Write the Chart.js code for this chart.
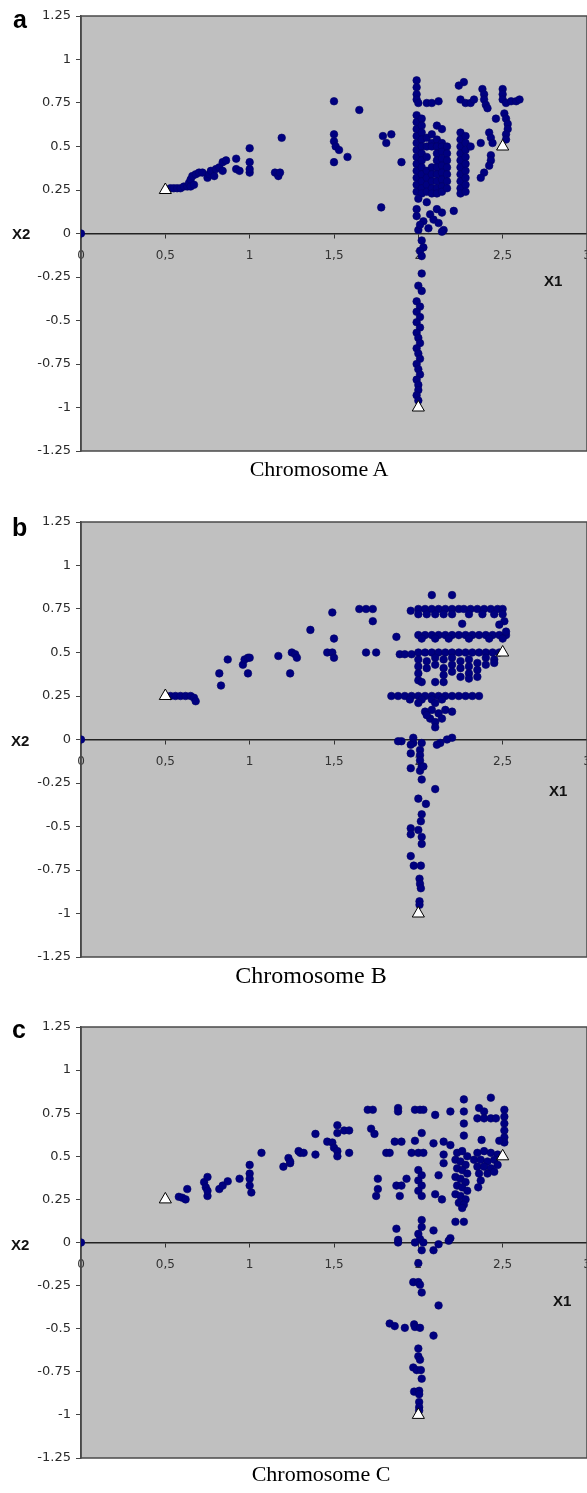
<!DOCTYPE html>
<html>
<head>
<meta charset="utf-8">
<script src="https://cdn.jsdelivr.net/npm/chart.js@4.4.1/dist/chart.umd.min.js"></script>
<style>
  html, body { margin: 0; padding: 0; background: #fff; overflow: hidden; }
  body { width: 587px; height: 1493px; position: relative; }
  /* a bit wider than the page: the plot runs to the page edge and the "3" label is cut, as in the original */
  .panel { position: absolute; left: 0; width: 595px; }
  .letter { position: absolute; font: bold 25px "Liberation Sans", Arial, sans-serif; line-height: 1; color: #000; }
  .axname { position: absolute; font: bold 15px "Liberation Sans", Arial, sans-serif; line-height: 1; color: #111; }
  .caption { position: absolute; width: 300px; text-align: center; font-family: "Liberation Serif", "Times New Roman", serif; line-height: 1; color: #000; }
</style>
</head>
<body>

<div class="panel" style="top:6px;height:455px"><canvas id="chartA"></canvas></div>
<div class="panel" style="top:512px;height:455px"><canvas id="chartB"></canvas></div>
<div class="panel" style="top:1017px;height:451px"><canvas id="chartC"></canvas></div>

<div class="letter" style="left:13px;top:7px">a</div>
<div class="letter" style="left:12px;top:515px">b</div>
<div class="letter" style="left:12px;top:1017px">c</div>

<div class="axname" style="left:12px;top:226px">X2</div>
<div class="axname" style="left:11px;top:733px">X2</div>
<div class="axname" style="left:11px;top:1237px">X2</div>
<div class="axname" style="left:544px;top:273px">X1</div>
<div class="axname" style="left:549px;top:783px">X1</div>
<div class="axname" style="left:553px;top:1293px">X1</div>

<div class="caption" style="left:169px;top:458px;font-size:22px">Chromosome A</div>
<div class="caption" style="left:161px;top:963px;font-size:24px">Chromosome B</div>
<div class="caption" style="left:171px;top:1463px;font-size:22px">Chromosome C</div>

<script>
// tick labels
const xTickLabels = ['0', '0,5', '1', '1,5', '2', '2,5', '3']
const yTickLabels = ['-1.25', '-1', '-0.75', '-0.5', '-0.25', '0', '0.25', '0.5', '0.75', '1', '1.25']

// the three optima (white triangles), same in every panel
const optimaX = [0.5, 2, 2.5]
const optimaY = [0.25, -1, 0.5]

// chromosome A, [X1, X2]
const pointsA = [
  [0, 0],
  [0.53, 0.26], [0.55, 0.26], [0.57, 0.26], [0.59, 0.26], [0.61, 0.27], [0.63, 0.27], [0.64, 0.29],
  [0.65, 0.31], [0.65, 0.27], [0.66, 0.33], [0.67, 0.28], [0.68, 0.34], [0.7, 0.35], [0.72, 0.35],
  [0.75, 0.32], [0.76, 0.34], [0.77, 0.36], [0.79, 0.33], [0.8, 0.37], [0.82, 0.38], [0.84, 0.36],
  [0.84, 0.41], [0.86, 0.42], [0.92, 0.37], [0.92, 0.43], [0.94, 0.36], [1.0, 0.35], [1.0, 0.37],
  [1.0, 0.41], [1.0, 0.49], [1.15, 0.35], [1.17, 0.33], [1.18, 0.35], [1.19, 0.55],
  [1.5, 0.76], [1.65, 0.71], [1.5, 0.57], [1.5, 0.53], [1.51, 0.5], [1.53, 0.48], [1.58, 0.44],
  [1.5, 0.41], [1.79, 0.56], [1.84, 0.57], [1.81, 0.52], [1.9, 0.41], [1.78, 0.15],
  [1.99, 0.88], [1.99, 0.84], [1.99, 0.8], [1.99, 0.77], [2.0, 0.75], [2.05, 0.75], [2.08, 0.75], [2.12, 0.76],
  [1.99, 0.68], [1.99, 0.64], [1.99, 0.6], [1.99, 0.56], [1.99, 0.52], [1.99, 0.48], [1.99, 0.44],
  [1.99, 0.4], [1.99, 0.36], [1.99, 0.32], [1.99, 0.28], [1.99, 0.24],
  [2.02, 0.66], [2.02, 0.62], [2.02, 0.58], [2.02, 0.54], [2.02, 0.5], [2.02, 0.46], [2.02, 0.42],
  [2.02, 0.38], [2.02, 0.34], [2.02, 0.3], [2.02, 0.26], [2.02, 0.23],
  [2.05, 0.55], [2.05, 0.5], [2.05, 0.44], [2.05, 0.36], [2.05, 0.32], [2.05, 0.28], [2.05, 0.24],
  [2.08, 0.57], [2.08, 0.52], [2.08, 0.5], [2.08, 0.38], [2.08, 0.34], [2.08, 0.3], [2.08, 0.26], [2.08, 0.23],
  [2.11, 0.62], [2.11, 0.54], [2.11, 0.5], [2.11, 0.46], [2.11, 0.42], [2.11, 0.38], [2.11, 0.34],
  [2.11, 0.3], [2.11, 0.26], [2.11, 0.23],
  [2.14, 0.6], [2.14, 0.52], [2.14, 0.5], [2.14, 0.47], [2.14, 0.43], [2.14, 0.39], [2.14, 0.35],
  [2.14, 0.31], [2.14, 0.27], [2.14, 0.24],
  [2.17, 0.5], [2.17, 0.46], [2.17, 0.42], [2.17, 0.38], [2.17, 0.34], [2.17, 0.3], [2.17, 0.26],
  [2.25, 0.58], [2.25, 0.54], [2.25, 0.5], [2.25, 0.46], [2.25, 0.42], [2.25, 0.38], [2.25, 0.34],
  [2.25, 0.3], [2.25, 0.26], [2.25, 0.23],
  [2.28, 0.56], [2.28, 0.52], [2.28, 0.48], [2.28, 0.44], [2.28, 0.4], [2.28, 0.36], [2.28, 0.32],
  [2.28, 0.28], [2.28, 0.24], [2.31, 0.5],
  [2.27, 0.87], [2.24, 0.85], [2.25, 0.77], [2.28, 0.75], [2.31, 0.75], [2.33, 0.77],
  [2.38, 0.83], [2.39, 0.8], [2.39, 0.77], [2.4, 0.74], [2.41, 0.72], [2.42, 0.58], [2.43, 0.55],
  [2.44, 0.52], [2.37, 0.52], [2.43, 0.45], [2.43, 0.42], [2.42, 0.39], [2.39, 0.35], [2.37, 0.32],
  [2.5, 0.83], [2.5, 0.8], [2.5, 0.77], [2.52, 0.75], [2.55, 0.76], [2.58, 0.76], [2.6, 0.77],
  [2.51, 0.69], [2.52, 0.66], [2.53, 0.63], [2.53, 0.6], [2.52, 0.57], [2.52, 0.54], [2.46, 0.66],
  [2.0, 0.2], [2.05, 0.18], [1.99, 0.14], [2.07, 0.11], [2.11, 0.14], [2.14, 0.12], [2.21, 0.13],
  [2.03, 0.07], [2.09, 0.08], [2.12, 0.06], [2.15, 0.02], [2.0, 0.02], [2.06, 0.03], [2.14, 0.01],
  [1.99, 0.1], [2.01, 0.05],
  [2.02, -0.04], [2.03, -0.08], [2.01, -0.1], [2.02, -0.13], [2.02, -0.23], [2.0, -0.3], [2.02, -0.33],
  [1.99, -0.39], [2.01, -0.42], [1.99, -0.45], [2.01, -0.48], [1.99, -0.51], [2.01, -0.54], [1.99, -0.57],
  [2.0, -0.6], [2.01, -0.63], [1.99, -0.66], [2.0, -0.69], [2.01, -0.72], [1.99, -0.75], [2.0, -0.78],
  [2.01, -0.81], [1.99, -0.84], [2.0, -0.87], [2.0, -0.9], [1.99, -0.93], [2.0, -0.96]
]

// chromosome B
const pointsB = [
  [0, 0],
  [0.53, 0.25], [0.56, 0.25], [0.59, 0.25], [0.62, 0.25], [0.65, 0.25], [0.67, 0.24], [0.68, 0.22],
  [0.82, 0.38], [0.83, 0.31], [0.87, 0.46], [0.96, 0.43], [0.97, 0.46], [0.99, 0.47], [1.0, 0.47],
  [0.99, 0.38], [1.17, 0.48], [1.24, 0.38], [1.25, 0.5], [1.27, 0.49], [1.28, 0.47], [1.36, 0.63],
  [1.49, 0.73], [1.5, 0.58], [1.46, 0.5], [1.49, 0.5], [1.5, 0.47], [1.65, 0.75], [1.69, 0.75],
  [1.73, 0.75], [1.73, 0.68], [1.69, 0.5], [1.75, 0.5], [1.87, 0.59], [1.89, 0.49], [1.92, 0.49],
  [1.96, 0.49], [1.955, 0.74],
  [2.08, 0.83], [2.2, 0.83],
  [2.0, 0.75], [2.04, 0.75], [2.08, 0.75], [2.12, 0.75], [2.16, 0.75], [2.2, 0.75], [2.24, 0.75],
  [2.0, 0.72], [2.05, 0.72], [2.1, 0.72], [2.15, 0.72], [2.2, 0.72],
  [2.27, 0.75], [2.31, 0.75], [2.35, 0.75], [2.39, 0.75], [2.43, 0.75], [2.47, 0.75], [2.5, 0.75],
  [2.3, 0.72], [2.38, 0.72], [2.45, 0.72], [2.5, 0.72], [2.51, 0.68], [2.48, 0.66], [2.26, 0.665],
  [2.0, 0.6], [2.04, 0.6], [2.08, 0.6], [2.12, 0.6], [2.16, 0.6], [2.2, 0.6], [2.24, 0.6],
  [2.28, 0.6], [2.32, 0.6], [2.36, 0.6], [2.4, 0.6], [2.44, 0.6], [2.48, 0.6], [2.52, 0.6],
  [2.02, 0.58], [2.1, 0.58], [2.18, 0.58], [2.3, 0.58], [2.42, 0.58], [2.5, 0.58], [2.52, 0.62],
  [2.0, 0.5], [2.04, 0.5], [2.08, 0.5], [2.12, 0.5], [2.16, 0.5], [2.2, 0.5], [2.24, 0.5],
  [2.28, 0.5], [2.32, 0.5], [2.36, 0.5], [2.4, 0.5], [2.44, 0.5], [2.48, 0.5],
  [2.0, 0.46], [2.0, 0.42], [2.0, 0.38], [2.0, 0.34], [2.05, 0.45], [2.05, 0.41],
  [2.1, 0.47], [2.1, 0.43], [2.15, 0.46], [2.15, 0.41], [2.15, 0.37], [2.2, 0.47], [2.2, 0.43],
  [2.2, 0.39], [2.25, 0.45], [2.25, 0.41], [2.25, 0.36], [2.3, 0.46], [2.3, 0.42], [2.3, 0.38],
  [2.3, 0.35], [2.35, 0.44], [2.35, 0.4], [2.35, 0.36], [2.4, 0.47], [2.4, 0.43], [2.45, 0.46],
  [2.45, 0.44], [2.02, 0.33], [2.1, 0.33], [2.15, 0.33],
  [1.84, 0.25], [1.88, 0.25], [1.92, 0.25], [1.96, 0.25], [2.0, 0.25], [2.04, 0.25], [2.08, 0.25],
  [2.12, 0.25], [2.16, 0.25], [2.2, 0.25], [2.24, 0.25], [2.28, 0.25], [2.32, 0.25], [2.36, 0.25],
  [1.95, 0.23], [2.02, 0.23], [2.08, 0.23], [2.14, 0.23], [2.0, 0.21], [2.1, 0.21],
  [2.04, 0.16], [2.08, 0.17], [2.12, 0.15], [2.16, 0.17], [2.2, 0.16], [2.07, 0.12], [2.1, 0.1],
  [2.14, 0.12], [2.1, 0.07], [2.05, 0.14],
  [1.9, -0.01], [1.97, 0.01], [1.97, -0.02], [2.02, -0.02], [2.13, -0.02], [2.2, 0.01],
  [1.88, -0.01], [1.955, -0.03], [1.955, -0.08], [2.01, -0.06], [2.01, -0.09], [2.01, -0.12],
  [1.955, -0.165], [2.02, -0.155], [2.01, -0.18], [2.03, -0.155], [2.02, -0.23], [2.1, -0.285],
  [2.11, -0.03], [2.17, 0], [2.0, -0.34], [2.045, -0.37], [2.02, -0.43], [2.015, -0.47],
  [1.955, -0.51], [1.955, -0.545], [2.0, -0.52], [2.02, -0.56], [2.02, -0.6], [1.955, -0.67],
  [1.973, -0.725], [2.015, -0.725], [2.007, -0.8], [2.01, -0.83], [2.015, -0.855], [2.007, -0.93],
  [2.007, -0.95]
]

// chromosome C
const pointsC = [
  [0, 0],
  [0.58, 0.265], [0.6, 0.26], [0.62, 0.25], [0.63, 0.31], [0.73, 0.35], [0.74, 0.32], [0.75, 0.38],
  [0.75, 0.27], [0.75, 0.3], [0.82, 0.31], [0.84, 0.33], [0.87, 0.355], [0.94, 0.37], [1.0, 0.45],
  [1.0, 0.4], [1.0, 0.37], [1.0, 0.33], [1.01, 0.29], [1.07, 0.52], [1.2, 0.44], [1.23, 0.49],
  [1.24, 0.46], [1.29, 0.53], [1.24, 0.47], [1.3, 0.52], [1.32, 0.52], [1.39, 0.63], [1.39, 0.51],
  [1.46, 0.585], [1.52, 0.68], [1.52, 0.635], [1.49, 0.58], [1.5, 0.55], [1.52, 0.53], [1.52, 0.5],
  [1.56, 0.65], [1.59, 0.65], [1.59, 0.52], [1.7, 0.77], [1.73, 0.77], [1.72, 0.66], [1.74, 0.63],
  [1.81, 0.52], [1.83, 0.52], [1.76, 0.37], [1.76, 0.31], [1.75, 0.27], [1.88, 0.78], [1.88, 0.76],
  [1.86, 0.585], [1.9, 0.585], [1.87, 0.33], [1.9, 0.33], [1.89, 0.27], [1.93, 0.37], [1.98, 0.77],
  [2.01, 0.77], [2.03, 0.77], [2.02, 0.635], [1.98, 0.59], [1.96, 0.52], [2.0, 0.52], [2.03, 0.52],
  [2.0, 0.42], [2.02, 0.39], [2.0, 0.36], [2.02, 0.33], [2.0, 0.3], [2.02, 0.27], [2.1, 0.74],
  [2.09, 0.575], [2.15, 0.585], [2.19, 0.565], [2.15, 0.51], [2.15, 0.46], [2.12, 0.39], [2.1, 0.28],
  [2.14, 0.25], [2.19, 0.76],
  [2.23, 0.52], [2.26, 0.53], [2.29, 0.5], [2.22, 0.48], [2.25, 0.47], [2.28, 0.45], [2.23, 0.43],
  [2.26, 0.42], [2.29, 0.4], [2.22, 0.38], [2.25, 0.37], [2.28, 0.35], [2.23, 0.33], [2.26, 0.32],
  [2.29, 0.3], [2.22, 0.28], [2.25, 0.27], [2.28, 0.25], [2.24, 0.23], [2.27, 0.22], [2.26, 0.2],
  [2.27, 0.83], [2.27, 0.76], [2.27, 0.69], [2.27, 0.62], [2.22, 0.12], [2.27, 0.12],
  [2.43, 0.84], [2.36, 0.78], [2.39, 0.76], [2.35, 0.72], [2.39, 0.72],
  [2.51, 0.77], [2.51, 0.73], [2.51, 0.69], [2.51, 0.65], [2.51, 0.61], [2.51, 0.58], [2.43, 0.72],
  [2.46, 0.72], [2.48, 0.59], [2.375, 0.595],
  [2.35, 0.52], [2.39, 0.53], [2.43, 0.52], [2.47, 0.51], [2.33, 0.48], [2.37, 0.48], [2.41, 0.47],
  [2.45, 0.48], [2.35, 0.44], [2.39, 0.44], [2.43, 0.43], [2.47, 0.45], [2.36, 0.4], [2.41, 0.4],
  [2.45, 0.41], [2.37, 0.36], [2.355, 0.32],
  [1.87, 0.08], [1.88, 0.015], [2.02, 0.13], [2.02, 0.09], [2.01, 0.02], [2.0, 0.05], [2.03, 0.0],
  [2.09, 0.07], [2.12, -0.01], [2.19, 0.025],
  [1.88, 0.0], [1.98, 0.0], [2.02, -0.045], [2.09, -0.045], [2.18, 0.01], [2.0, -0.12],
  [1.97, -0.23], [2.0, -0.23], [2.01, -0.245], [2.02, -0.29], [2.12, -0.365], [1.83, -0.47],
  [1.86, -0.485], [1.92, -0.495], [1.975, -0.475], [1.98, -0.49], [2.01, -0.495], [2.09, -0.54],
  [2.0, -0.615], [2.0, -0.66], [2.01, -0.68], [1.97, -0.725], [1.99, -0.74], [2.015, -0.74],
  [2.02, -0.79], [1.975, -0.865], [2.005, -0.86], [2.005, -0.88], [2.005, -0.925], [2.005, -0.955],
  [2.005, -0.975]
]

// grey plotting area with a dark frame, like the old spreadsheet charts
const plotFrame = {
  id: 'plotFrame',
  beforeDraw(chart) {
    const { ctx, chartArea: a } = chart
    ctx.save()
    ctx.fillStyle = '#c0c0c0'
    ctx.fillRect(a.left, a.top, a.right - a.left, a.bottom - a.top)
    ctx.restore()
  },
  beforeDatasetsDraw(chart) {
    const { ctx, chartArea: a } = chart
    ctx.save()
    ctx.strokeStyle = '#4a4a4a'
    ctx.lineWidth = 1.5
    ctx.strokeRect(a.left, a.top, a.right - a.left, a.bottom - a.top)
    ctx.restore()
  }
}

function buildPanel(canvasId, points) {
  return new Chart(document.getElementById(canvasId), {
    type: 'scatter',
    data: {
      datasets: [
        {
          label: 'Optima',
          data: optimaX.map((x, i) => ({ x: x, y: optimaY[i] })),
          pointStyle: 'triangle',
          pointRadius: 7,
          backgroundColor: '#ffffff',
          borderColor: '#000000',
          borderWidth: 1
        },
        {
          label: 'Individuals',
          data: points.map(p => ({ x: p[0], y: p[1] })),
          pointRadius: 3.8,
          backgroundColor: '#000080',
          borderColor: '#000066',
          borderWidth: 0.6
        }
      ]
    },
    options: {
      responsive: true,
      maintainAspectRatio: false,
      animation: false,
      events: [],
      layout: { padding: { top: 10, bottom: 10, left: 0, right: 0 } },
      plugins: { legend: { display: false }, tooltip: { enabled: false } },
      scales: {
        x: {
          type: 'linear',
          position: { y: 0 },
          min: 0,
          max: 3,
          ticks: {
            stepSize: 0.5,
            autoSkip: false,
            maxRotation: 0,
            padding: 11,
            color: '#333',
            font: { family: 'DejaVu Sans', size: 12 },
            callback: (v, i) => xTickLabels[i]
          },
          grid: { drawOnChartArea: false, drawTicks: true, tickLength: 4, color: '#333' },
          border: { display: true, color: '#222', width: 1.5 },
          afterFit: (s) => { s.paddingLeft = 0; s.paddingRight = 0 }
        },
        y: {
          type: 'linear',
          position: 'left',
          min: -1.25,
          max: 1.25,
          ticks: {
            stepSize: 0.25,
            autoSkip: false,
            padding: 5,
            color: '#2b2b2b',
            font: { family: 'DejaVu Sans', size: 13 },
            callback: (v, i) => yTickLabels[i]
          },
          grid: { drawOnChartArea: false, drawTicks: true, tickLength: 5, color: '#444' },
          border: { display: true, color: '#444', width: 1.5 },
          afterFit: (s) => { s.width = 81; s.paddingTop = 0; s.paddingBottom = 0 }
        }
      }
    },
    plugins: [plotFrame]
  })
}

buildPanel('chartA', pointsA)
buildPanel('chartB', pointsB)
buildPanel('chartC', pointsC)
</script>
</body>
</html>
